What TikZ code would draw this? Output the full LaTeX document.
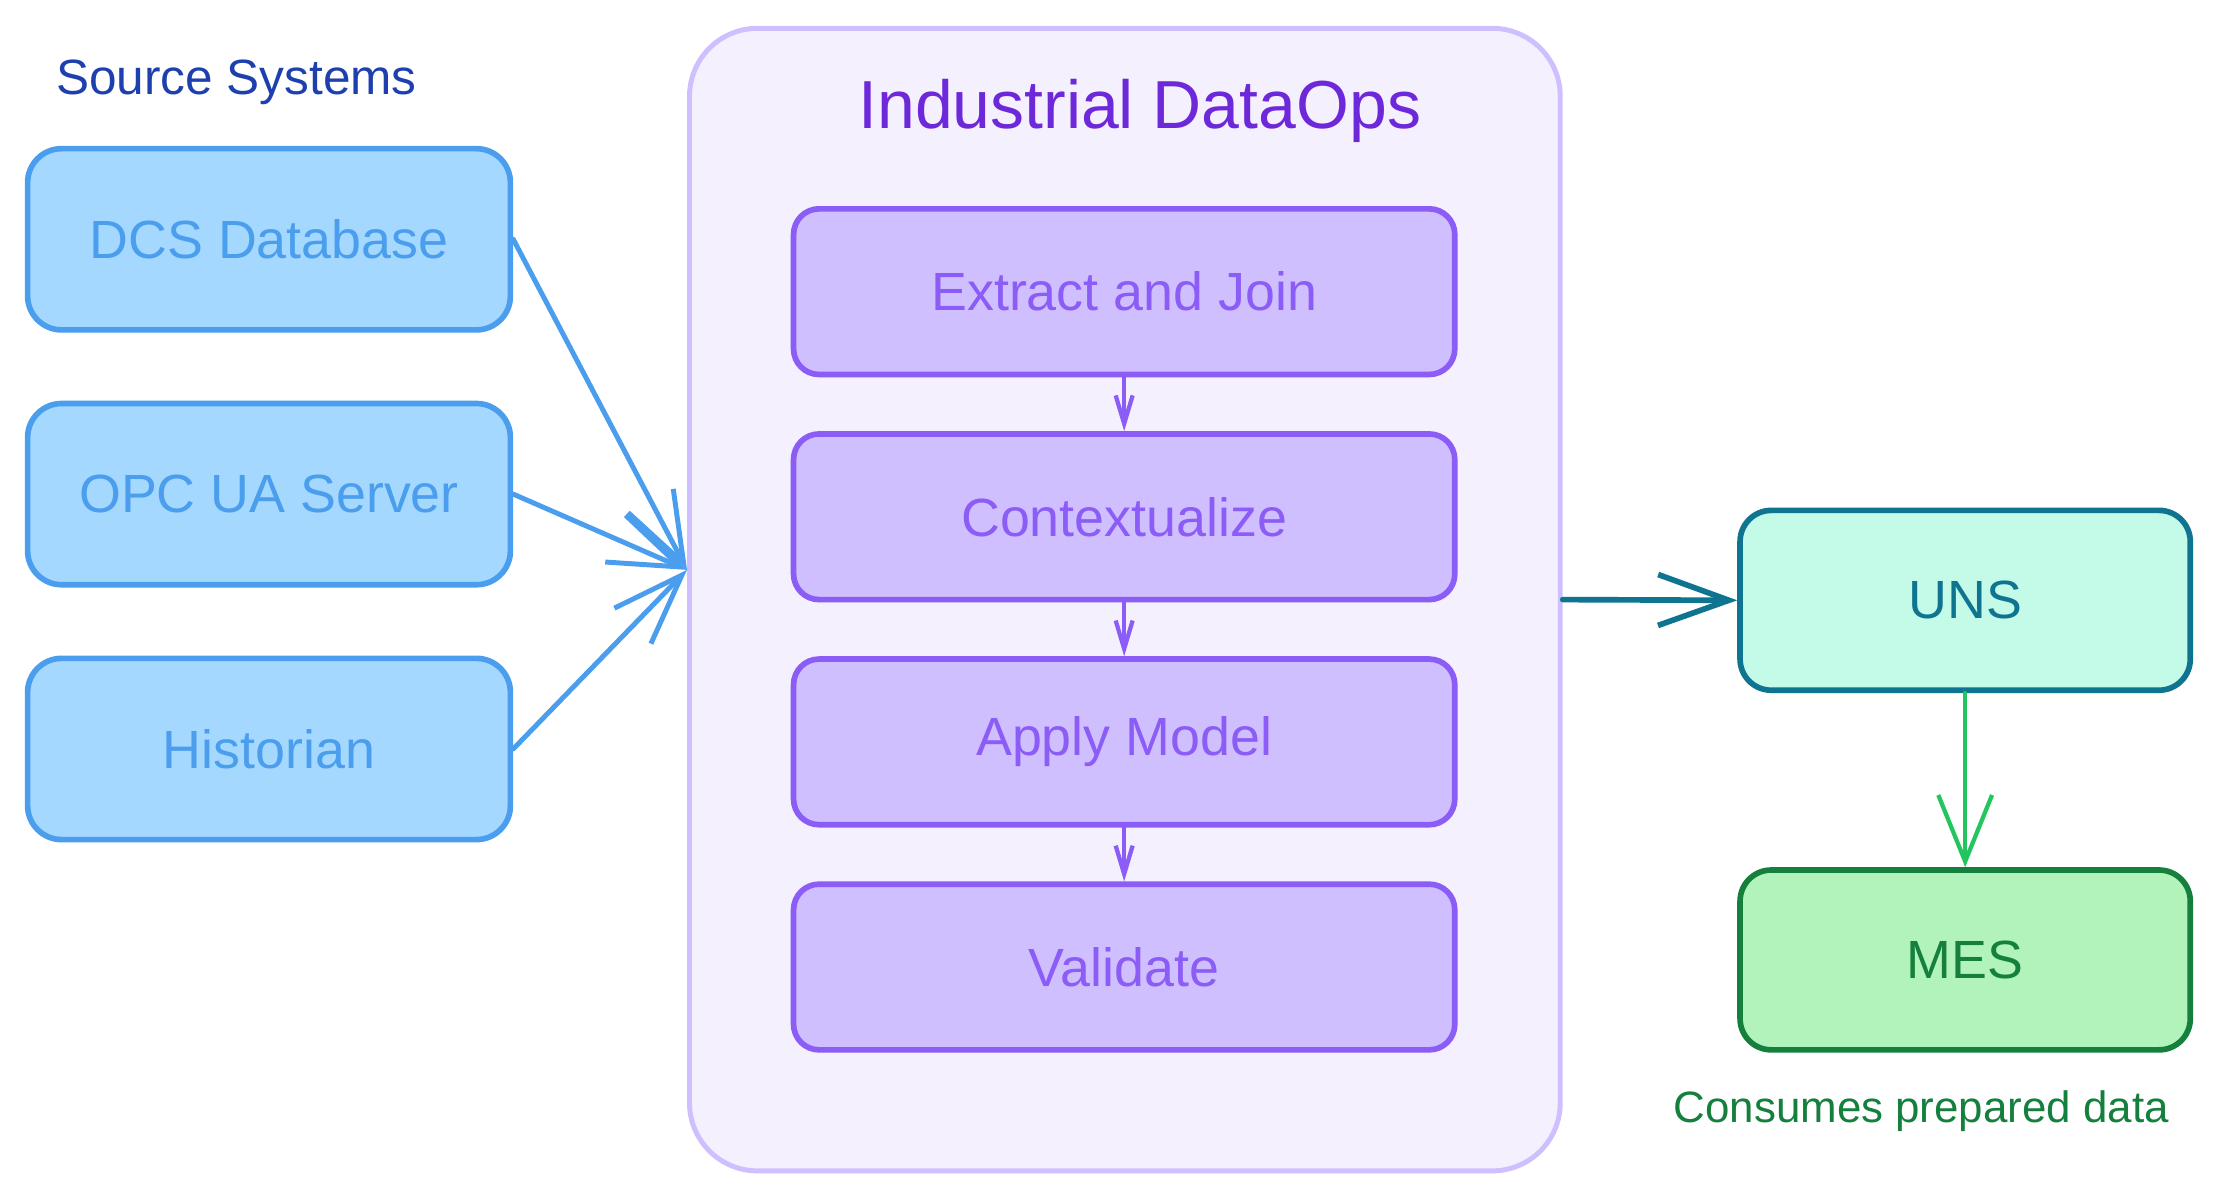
\documentclass[tikz,border=0pt]{standalone}
\usepackage{fontspec}
\setmainfont{Liberation Sans}
\usetikzlibrary{arrows.meta}

\definecolor{srcfill}{HTML}{A5D8FF}
\definecolor{srcline}{HTML}{4A9EED}
\definecolor{srctitle}{HTML}{1E40AF}
\definecolor{opsfill}{HTML}{F4F0FE}
\definecolor{opsline}{HTML}{D0BFFF}
\definecolor{opstitle}{HTML}{6D28D9}
\definecolor{stepfill}{HTML}{D0BFFF}
\definecolor{stepline}{HTML}{8B5CF6}
\definecolor{unsfill}{HTML}{C3FAE8}
\definecolor{unsline}{HTML}{0E7490}
\definecolor{mesfill}{HTML}{B2F2BB}
\definecolor{mesline}{HTML}{15803D}
\definecolor{mesarrow}{HTML}{22C55E}

\newcommand{\boxfont}{\fontsize{38}{44}\selectfont}

\begin{document}
\begin{tikzpicture}
[every node/.style={inner sep=0pt},
 srcbox/.style={rectangle, rounded corners=24pt, minimum width=341pt, minimum height=128pt, fill=srcfill, draw=srcline, line width=4pt, text=srcline, font=\boxfont},
 stepbox/.style={rectangle, rounded corners=18pt, minimum width=467pt, minimum height=117pt, fill=stepfill, draw=stepline, line width=4pt, text=stepline, font=\boxfont},
 sinkbox/.style={rectangle, rounded corners=22pt, minimum width=318pt, minimum height=127pt, line width=4pt, font=\boxfont},
 srcarrow/.style={line width=3.5pt, line cap=round, color=srcline, -{Straight Barb[length=50pt, width=36pt, line width=3.5pt]}},
 steparrow/.style={line width=3pt, line cap=round, color=stepline, -{Straight Barb[length=20pt, width=12pt, line width=3pt]}}]
\useasboundingbox (0pt,0pt) rectangle (1568pt,-848pt);

% source systems
\node (srctitle) [text=srctitle, font=\fontsize{35}{40}\selectfont] at (167pt, -58pt) {Source Systems};
\node (dcs) [srcbox] at (190pt, -169pt) {DCS Database};
\node (opc) [srcbox] at (190pt, -349pt) {OPC UA Server};
\node (hist) [srcbox] at (190pt, -529pt) {Historian};

% dataops container
\node (ops) [rectangle, rounded corners=48pt, minimum width=615pt, minimum height=807pt, fill=opsfill, draw=opsline, line width=3.5pt] at (794.5pt, -423.5pt) {};
\node (opstitle) [text=opstitle, font=\fontsize{48}{54}\selectfont] at (805pt, -78pt) {Industrial DataOps};
\node (extract) [stepbox] at (794pt, -206pt) {Extract and Join};
\node (context) [stepbox] at (794pt, -365pt) {Contextualize};
\node (model) [stepbox] at (794pt, -524pt) {Apply Model};
\node (valid) [stepbox] at (794pt, -683pt) {Validate};
\coordinate (opsin) at ([yshift=21pt]ops.west);

% consumers
\node (uns) [sinkbox, fill=unsfill, draw=unsline, text=unsline] at (1388pt, -424pt) {UNS};
\node (mes) [sinkbox, fill=mesfill, draw=mesline, text=mesline] at (1388pt, -678pt) {MES};
\node (mesnote) [text=mesline, font=\fontsize{31}{36}\selectfont] at (1357pt, -785pt) {Consumes prepared data};

\draw [srcarrow] (dcs.east) -- (opsin);
\draw [srcarrow] (opc.east) -- (opsin);
\draw [srcarrow] (hist.east) -- (opsin);
\draw [steparrow] (extract) -- (context);
\draw [steparrow] (context) -- (model);
\draw [steparrow] (model) -- (valid);
\draw [line width=4pt, line cap=round, color=unsline, -{Straight Barb[length=50pt, width=36pt, line width=4pt]}] (ops.east) -- (uns.west);
\draw [line width=3pt, line cap=round, color=mesarrow, -{Straight Barb[length=47pt, width=38pt, line width=3pt]}] (uns) -- (mes);
\end{tikzpicture}
\end{document}
